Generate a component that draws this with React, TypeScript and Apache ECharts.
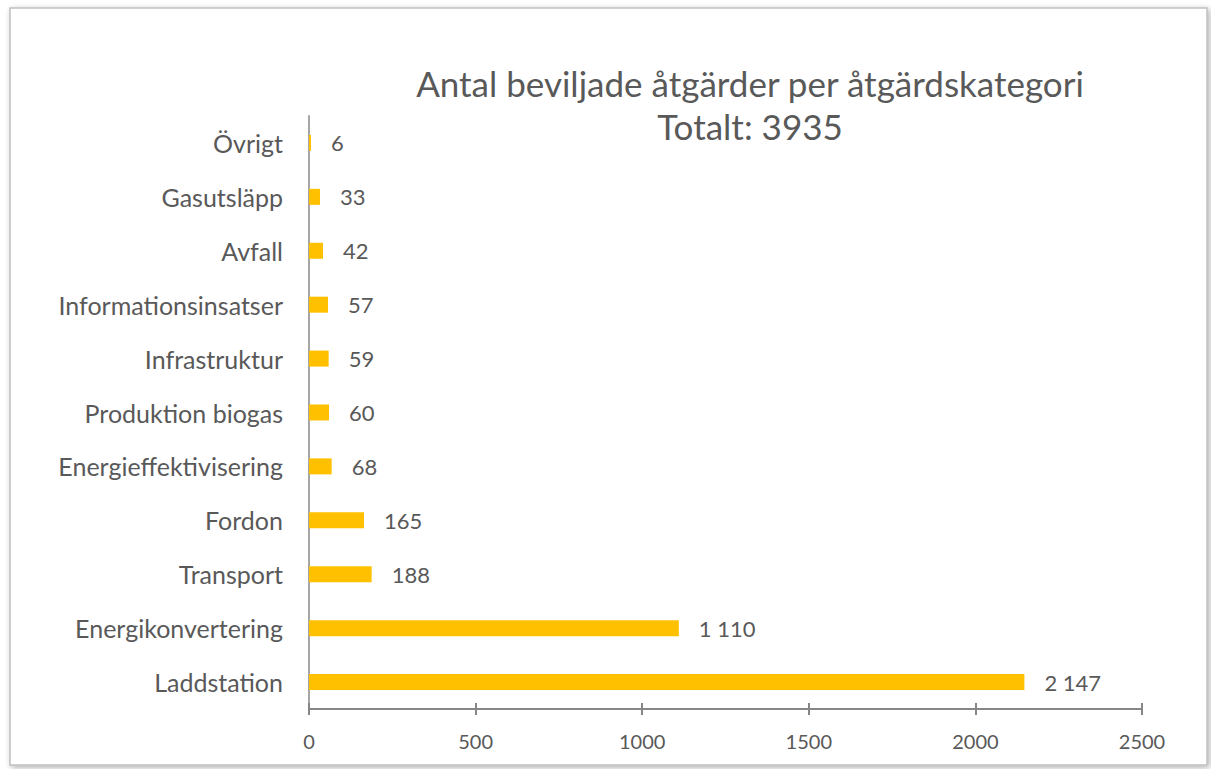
import React, { useEffect, useRef } from "react";
import * as echarts from "echarts";

const categories = [
  "Laddstation",
  "Energikonvertering",
  "Transport",
  "Fordon",
  "Energieffektivisering",
  "Produktion biogas",
  "Infrastruktur",
  "Informationsinsatser",
  "Avfall",
  "Gasutsläpp",
  "Övrigt",
];
const values = [2147, 1110, 188, 165, 68, 60, 59, 57, 42, 33, 6];
const titleLines = ["Antal beviljade åtgärder per åtgärdskategori", "Totalt: 3935"];

const FONT = "Lato, 'Open Sans', sans-serif";
const fmt = (v: number) => String(v).replace(/\B(?=(\d{3})+(?!\d))/g, " ");

export default function App() {
  const ref = useRef<HTMLDivElement>(null);
  useEffect(() => {
    const chart = echarts.init(ref.current!, null, { renderer: "svg" });
    const axisBase = {
      type: "value",
      min: 0,
      max: 2500,
      interval: 500,
      position: "bottom",
      splitLine: { show: false },
    };
    chart.setOption({
      animation: false,
      backgroundColor: "#ffffff",
      graphic: [
        {
          type: "rect",
          shape: { x: 10, y: 8, width: 1197, height: 757 },
          style: {
            fill: "#ffffff",
            stroke: "#c0c0c0",
            lineWidth: 1.5,
            shadowBlur: 6,
            shadowOffsetX: 2,
            shadowOffsetY: 2,
            shadowColor: "rgba(0,0,0,0.3)",
          },
          z: -10,
        },
      ],
      title: {
        text: titleLines.join("\n"),
        left: 745,
        top: 56,
        textAlign: "center",
        textStyle: {
          fontFamily: FONT,
          fontSize: 35,
          fontWeight: "normal",
          color: "#595959",
          lineHeight: 43,
        },
      },
      grid: { left: 309, right: 69, top: 116, bottom: 60, containLabel: false },
      xAxis: [
        {
          ...axisBase,
          axisLine: { show: true, lineStyle: { color: "#868686", width: 2 } },
          axisTick: { show: true, inside: false, length: 6, lineStyle: { color: "#868686", width: 2 } },
          axisLabel: {
            fontFamily: FONT,
            fontSize: 20,
            color: "#595959",
            margin: 22,
            formatter: (v: number) => String(v),
          },
        },
        {
          ...axisBase,
          axisLine: { show: false },
          axisTick: { show: true, inside: true, length: 6, lineStyle: { color: "#868686", width: 2 } },
          axisLabel: { show: false },
        },
      ],
      yAxis: {
        type: "category",
        data: categories,
        axisLine: { show: true, lineStyle: { color: "#a6a6a6", width: 2 } },
        axisTick: { show: false },
        axisLabel: { fontFamily: FONT, fontSize: 25, color: "#595959", margin: 26 },
      },
      series: [
        {
          type: "bar",
          data: values,
          xAxisIndex: 0,
          barWidth: 16,
          itemStyle: { color: "#ffc000" },
          label: {
            show: true,
            position: "right",
            distance: 20,
            fontFamily: FONT,
            fontSize: 22,
            color: "#595959",
            formatter: (p: any) => fmt(p.value),
          },
        },
      ],
    });
    return () => chart.dispose();
  }, []);
  return (
    <div
      ref={ref}
      style={{ position: "fixed", left: 0, top: 0, width: 1211, height: 769 }}
    />
  );
}
